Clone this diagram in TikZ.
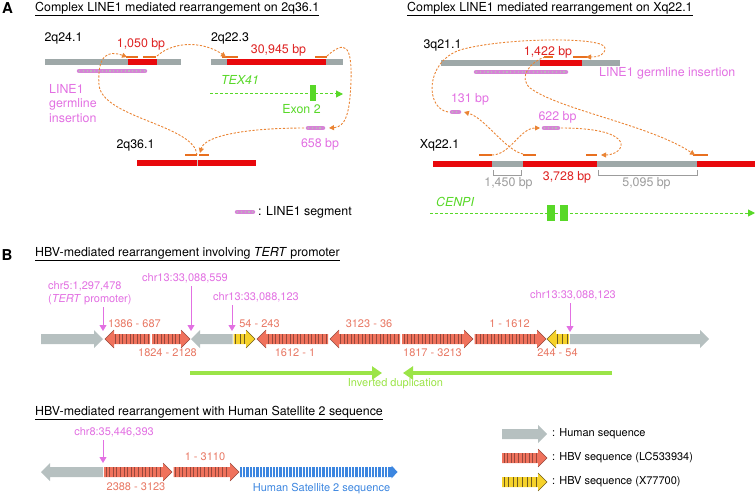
\documentclass[tikz,border=0pt]{standalone}
\usepackage{fontspec}
\setmainfont{TeX Gyre Heros}
\usetikzlibrary{arrows.meta}

\definecolor{chrgray}{RGB}{158,168,168}
\definecolor{brkred}{RGB}{232,8,12}
\definecolor{lblred}{RGB}{222,34,34}
\definecolor{pathorange}{RGB}{234,132,52}
\definecolor{markorange}{RGB}{232,112,32}
\definecolor{lonepink}{RGB}{226,112,226}
\definecolor{lsegpink}{RGB}{214,132,214}
\definecolor{genegreen}{RGB}{88,216,40}
\definecolor{dupgreen}{RGB}{155,228,72}
\definecolor{humgray}{RGB}{182,192,192}
\definecolor{hbvsalmon}{RGB}{240,114,92}
\definecolor{hbvstripe}{RGB}{150,72,60}
\definecolor{hbvyellow}{RGB}{246,210,42}
\definecolor{hbvystripe}{RGB}{112,92,30}
\definecolor{satblue}{RGB}{60,134,224}
\definecolor{hbvtext}{RGB}{232,120,100}
\definecolor{bpgray}{RGB}{156,156,156}

% LINE1 segment bar
\newcommand{\lineseg}[3]{%
  \draw[line width=4.5pt,line cap=round,lsegpink] (#1,#3) -- (#2,#3);
  \draw[line width=2.4pt,gray!55,dash pattern=on 1.2pt off 2.6pt] (#1,#3) -- (#2,#3);}

% human sequence arrow: tail, tip, y
\newcommand{\humarrow}[3]{%
  \pgfmathsetmacro{\arhb}{#2-9*sign(#2-#1)}%
  \fill[humgray] (#1,#3-5) -- (\arhb,#3-5) -- (\arhb,#3-9) -- (#2,#3)
    -- (\arhb,#3+9) -- (\arhb,#3+5) -- (#1,#3+5) -- cycle;}

% HBV sequence arrow: tail, tip, y, fill, stripes, stripe step
\newcommand{\hbvarrow}[6]{%
  \pgfmathsetmacro{\arsd}{sign(#2-#1)}%
  \pgfmathsetmacro{\arhb}{#2-9*\arsd}%
  \pgfmathsetmacro{\arsa}{#1+2*\arsd}%
  \pgfmathsetmacro{\arsb}{#1+(2+#6)*\arsd}%
  \pgfmathsetmacro{\arse}{\arhb-\arsd}%
  \fill[#4] (#1,#3-5) -- (\arhb,#3-5) -- (\arhb,#3-9) -- (#2,#3)
    -- (\arhb,#3+9) -- (\arhb,#3+5) -- (#1,#3+5) -- cycle;
  \foreach \arsx in {\arsa,\arsb,...,\arse}
    \draw[#5,line width=0.7pt] (\arsx,#3-5) -- (\arsx,#3+5);
  \draw[#5,line width=0.5pt] (\arhb,#3-9) -- (#2,#3) -- (\arhb,#3+9);}

\tikzset{
  txt/.style={font=\fontsize{12.4}{14.5}\selectfont},
  txti/.style={font=\fontsize{12.4}{14.5}\selectfont\itshape},
  stxt/.style={font=\fontsize{11}{13}\selectfont},
  chrbar/.style={line width=6pt},
  brkmark/.style={markorange,line width=1.3pt},
  rpath/.style={pathorange,line width=0.9pt,dash pattern=on 2.2pt off 1.6pt,
    -{Triangle[length=5pt,width=5pt]}},
  gene/.style={genegreen,line width=1pt,dash pattern=on 3pt off 2pt,
    -{Triangle[length=7pt,width=7pt]}},
  pinkarr/.style={lonepink,line width=1pt,-{Triangle[length=6pt,width=7pt]}},
  duparr/.style={dupgreen,line width=4.5pt,-{Triangle[length=10pt,width=13pt]}}
}

\begin{document}
\begin{tikzpicture}[x=1pt,y=-1pt,every node/.style={inner sep=0pt,txt}]
\useasboundingbox (0,0) rectangle (756,495);

%Panel A, 2q36.1
\node[font=\fontsize{15}{15}\selectfont\bfseries] (panA) at (7.5,8) {A};
\node[anchor=west] (titleAL) at (35,9) {\underline{Complex LINE1 mediated rearrangement on 2q36.1}};

\node (lbl2q24) at (63.5,38) {2q24.1};
\node[text=lblred] (lbl1050) at (141,44) {1,050 bp};
\draw[chrbar,chrgray] (45,62.5) -- (181,62.5);
\draw[chrbar,brkred] (128,62.5) -- (157,62.5);
\lineseg{79}{145}{71}
\node[anchor=west,align=left,text=lonepink] (lblL1a) at (49,103.5) {LINE1\\germline\\insertion};

\node (lbl2q22) at (230,38) {2q22.3};
\node[text=lblred] (lbl30945) at (278.5,50) {30,945 bp};
\draw[chrbar,chrgray] (211,62.5) -- (343,62.5);
\draw[chrbar,brkred] (227,62.5) -- (326,62.5);

\node[txti,text=genegreen] (lblTEX) at (240,80) {TEX41};
\coordinate (texs) at (210,94);
\coordinate (texe) at (343,94);
\draw[gene] (texs) -- (texe);
\fill[genegreen] (310,85) rectangle (315.5,101);
\node[text=genegreen] (lblex2) at (301.5,109) {Exon 2};

\lineseg{308}{323}{128}
\node[text=lonepink] (lbl658) at (320,144) {658 bp};

\node (lbl2q36) at (135.5,145) {2q36.1};
\draw[chrbar,brkred] (137,163) -- (256,163);
\draw[gray!45,line width=0.8pt] (197.5,160) -- (197.5,166);

%breakpoint marks
\draw[brkmark] (126,57) -- (138,57);
\draw[brkmark] (143,57) -- (156,57);
\draw[brkmark] (222,57) -- (238,57);
\draw[brkmark] (315,57) -- (327,57);
\draw[brkmark] (185,155) -- (197,155);
\draw[brkmark] (199,155) -- (209,155);

\coordinate (q36l) at (197,155);
\coordinate (q36r) at (200,153);
\coordinate (s1050in) at (127,57);
\coordinate (s1050out) at (157,56);
\coordinate (s30945in) at (226,57);
\coordinate (s30945out) at (327,56);
\coordinate (s658r) at (329,128);
\coordinate (s658l) at (304,128);

\draw[rpath] (q36l) .. controls (195,125) and (102,118) .. (99,85) .. controls (97,55) and (108,50) .. (s1050in);
\draw[rpath] (s1050out) .. controls (175,40) and (205,42) .. (s30945in);
\draw[rpath] (s30945out) .. controls (345,40) and (352,45) .. (351,80) .. controls (350,115) and (345,127) .. (s658r);
\draw[rpath] (s658l) .. controls (250,128) and (205,135) .. (q36r);

\lineseg{237}{253}{212}
\node[anchor=west] (lgdL1) at (258,212) {: LINE1 segment};

%Panel A, Xq22.1
\node[anchor=west] (titleAR) at (407,9) {\underline{Complex LINE1 mediated rearrangement on Xq22.1}};

\node (lbl3q21) at (442.5,45) {3q21.1};
\node[text=lblred] (lbl1422) at (548,52) {1,422 bp};
\draw[chrbar,chrgray] (441,63) -- (620,63);
\draw[chrbar,brkred] (540,63) -- (582,63);
\lineseg{476}{566}{72}
\node[anchor=west,text=lonepink] (lblL1b) at (599,73) {LINE1 germline insertion};

\lineseg{452}{459}{112}
\node[text=lonepink] (lbl131) at (470,99) {131 bp};
\lineseg{544}{558}{128}
\node[text=lonepink] (lbl622) at (557.5,117) {622 bp};

\node (lblXq22) at (439.5,145) {Xq22.1};
\draw[chrbar,brkred] (433,164) -- (755,164);
\draw[chrbar,chrgray] (492,164) -- (523,164);
\draw[chrbar,chrgray] (597,164) -- (697,164);

\draw[bpgray,line width=0.7pt] (493,170) -- (493,175) -- (521,175) -- (521,170);
\draw[bpgray,line width=0.7pt] (598,170) -- (598,175) -- (697,175) -- (697,170);
\node[text=bpgray] (lbl1450) at (508.5,183) {1,450 bp};
\node[text=lblred] (lbl3728) at (567,177) {3,728 bp};
\node[text=bpgray] (lbl5095) at (646.5,183) {5,095 bp};

\node[txti,text=genegreen] (lblCENPI) at (455,202) {CENPI};
\coordinate (cens) at (430,213);
\coordinate (cene) at (755,213);
\draw[gene] (cens) -- (cene);
\fill[genegreen] (547,205) rectangle (554.5,221);
\fill[genegreen] (560,205) rectangle (567.5,221);

%breakpoint marks
\draw[brkmark] (544,57) -- (553,57);
\draw[brkmark] (573,57) -- (587,57);
\draw[brkmark] (479,155) -- (492,155);
\draw[brkmark] (523,155) -- (536,155);
\draw[brkmark] (586,155) -- (597,155);
\draw[brkmark] (693,155) -- (708,155);

\coordinate (xq1out) at (492,155);
\coordinate (s622l) at (540,128);
\coordinate (s622r) at (561,128);
\coordinate (xq2in) at (601,155);
\coordinate (xq2out) at (523,154);
\coordinate (s131r) at (464,112);
\coordinate (s131l) at (448,112);
\coordinate (s1422in) at (586,57);
\coordinate (s1422out) at (545,57);
\coordinate (xq3in) at (695,155);

\draw[rpath] (xq1out) .. controls (510,155) and (520,128) .. (s622l);
\draw[rpath] (s622r) .. controls (640,128) and (625,155) .. (xq2in);
\draw[rpath] (xq2out) .. controls (505,150) and (485,118) .. (s131r);
\draw[rpath] (s131l) .. controls (425,108) and (425,62) .. (460,50) .. controls (500,38) and (605,36) .. (605,48) .. controls (605,56) and (597,57) .. (s1422in);
\draw[rpath] (s1422out) .. controls (530,62) and (518,77) .. (530,88) .. controls (560,110) and (650,125) .. (xq3in);

%Panel B, TERT promoter
\node[font=\fontsize{15}{15}\selectfont\bfseries] (panB) at (7,255) {B};
\node[anchor=west] (titleB1) at (35,254) {\underline{HBV-mediated rearrangement involving \textit{TERT} promoter}};

\humarrow{41}{103}{339}
\hbvarrow{150}{105}{339}{hbvsalmon}{hbvstripe}{3.6}
\hbvarrow{152}{190}{339}{hbvsalmon}{hbvstripe}{3.6}
\humarrow{232.5}{191}{339}
\hbvarrow{233.5}{255}{339}{hbvyellow}{hbvystripe}{4.6}
\hbvarrow{328}{257}{339}{hbvsalmon}{hbvstripe}{3.6}
\hbvarrow{400}{330}{339}{hbvsalmon}{hbvstripe}{3.6}
\hbvarrow{402}{473}{339}{hbvsalmon}{hbvstripe}{3.6}
\hbvarrow{474.5}{546}{339}{hbvsalmon}{hbvstripe}{3.6}
\hbvarrow{569}{547}{339}{hbvyellow}{hbvystripe}{4.6}
\humarrow{570}{709}{339}

\begin{scope}[every node/.style={inner sep=0pt,stxt,text=hbvtext}]
	\node (r1386) at (134.5,324) {1386 - 687};
	\node (r1824) at (167.5,353) {1824 - 2128};
	\node (r54) at (259.5,324) {54 - 243};
	\node (r1612) at (295,353) {1612 - 1};
	\node (r3123) at (369,324) {3123 - 36};
	\node (r1817) at (432.5,353) {1817 - 3213};
	\node (r1) at (509.5,324) {1 - 1612};
	\node (r244) at (557.5,353) {244 - 54};
\end{scope}

\begin{scope}[every node/.style={inner sep=0pt,stxt,text=lonepink}]
	\node[anchor=west] (chr5) at (48,286) {chr5:1,297,478};
	\node[anchor=west] (tertp) at (48,300) {(\textit{TERT} promoter)};
	\node (chr13a) at (185,278) {chr13:33,088,559};
	\node (chr13b) at (256,297) {chr13:33,088,123};
	\node (chr13c) at (573,295) {chr13:33,088,123};
\end{scope}
\coordinate (j5) at (103,331);
\coordinate (j13a) at (191,331);
\coordinate (j13b) at (232,331);
\coordinate (j13c) at (570,332);
\draw[pinkarr] ([yshift=-2pt]tertp.south -| j5) -- (j5);
\draw[pinkarr] ([yshift=-3pt]chr13a.south -| j13a) -- (j13a);
\draw[pinkarr] ([yshift=-3pt]chr13b.south -| j13b) -- (j13b);
\draw[pinkarr] ([yshift=-3pt]chr13c.south -| j13c) -- (j13c);

\coordinate (dupa) at (190,373);
\coordinate (dupb) at (382,373);
\coordinate (dupc) at (612,373);
\coordinate (dupd) at (403,373);
\draw[duparr] (dupa) -- (dupb);
\draw[duparr] (dupc) -- (dupd);
\node[stxt,text=dupgreen] (lbldup) at (395.5,384) {Inverted duplication};

%Panel B, Satellite 2
\node[anchor=west] (titleB2) at (35,413) {\underline{HBV-mediated rearrangement with Human Satellite 2 sequence}};

\humarrow{103}{41}{472}
\hbvarrow{104}{172}{472}{hbvsalmon}{hbvstripe}{3.6}
\hbvarrow{173.5}{239}{472}{hbvsalmon}{hbvstripe}{3.6}
\fill[satblue] (240,467) -- (391.5,467) -- (391.5,465.5) -- (397.5,472) -- (391.5,478.5) -- (391.5,477) -- (240,477) -- cycle;
\foreach \bx in {242.5,245.8,...,390}
	\draw[white,line width=0.7pt] (\bx,467) -- (\bx,477);

\node[stxt,text=lonepink] (chr8) at (114,432) {chr8:35,446,393};
\coordinate (j8) at (103,463);
\draw[pinkarr] ([yshift=-3pt]chr8.south -| j8) -- (j8);
\node[stxt,text=hbvtext] (r2388) at (136,487) {2388 - 3123};
\node[stxt,text=hbvtext] (r3110) at (205,457) {1 - 3110};
\node[stxt,text=satblue] (lblsat) at (321.5,489) {Human Satellite 2 sequence};

%legend
\humarrow{502}{547}{434}
\hbvarrow{502}{547}{458}{hbvsalmon}{hbvstripe}{3.6}
\hbvarrow{502}{547}{482}{hbvyellow}{hbvystripe}{4.6}
\node[stxt,anchor=west] (lgdhum) at (552,434) {: Human sequence};
\node[stxt,anchor=west] (lgdlc) at (552,458) {: HBV sequence (LC533934)};
\node[stxt,anchor=west] (lgdx) at (552,482) {: HBV sequence (X77700)};

\end{tikzpicture}
\end{document}
